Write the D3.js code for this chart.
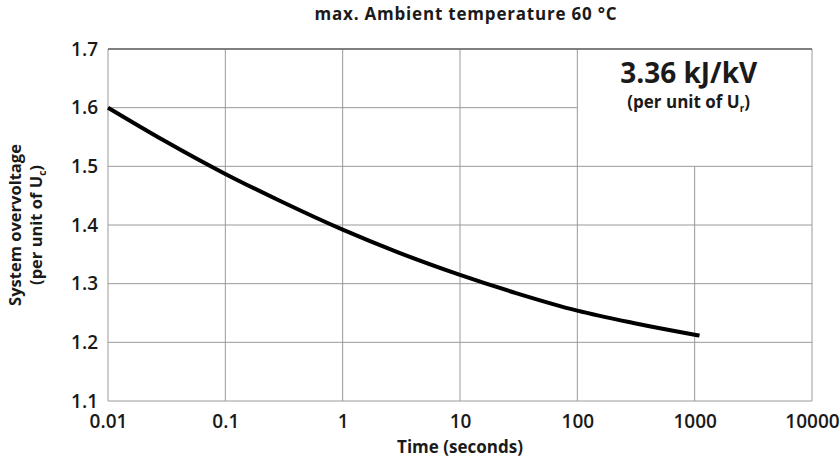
<!DOCTYPE html>
<html>
<head>
<meta charset="utf-8">
<script src="https://cdn.jsdelivr.net/npm/d3@7/dist/d3.min.js"></script>
<style>
  body { margin: 0; background: #fff; }
  svg text { font-family: "Open Sans", "DejaVu Sans", sans-serif; fill: #1a1a1a; }
</style>
</head>
<body>
<script>
'use strict';

// curve: time (s) vs overvoltage (per unit of Uc)
const times = [0.01, 0.03, 0.1, 0.3, 1, 3, 10, 30, 100, 300, 1000, 1100];
const overvoltage = [1.600, 1.544, 1.487, 1.440, 1.392, 1.353, 1.315, 1.284, 1.254, 1.233, 1.213, 1.2115];

const xTicks = [0.01, 0.1, 1, 10, 100, 1000, 10000];
const xTickLabels = ["0.01", "0.1", "1", "10", "100", "1000", "10000"];
const yTicks = [1.1, 1.2, 1.3, 1.4, 1.5, 1.6, 1.7];

const width = 840, height = 464;
const margin = { left: 108, right: 28, top: 49, bottom: 63 };

const svg = d3.select('body')
  .append('svg')
  .attr('width', width)
  .attr('height', height);

const x = d3.scaleLog()
  .domain([0.01, 10000])
  .range([margin.left, width - margin.right]);

const y = d3.scaleLinear()
  .domain([1.1, 1.7])
  .range([height - margin.bottom, margin.top]);

// grid - the 1.6 line stops at 100 s and the 1000 s line stops at 1.5 (text box)
const grid = svg.append('g').attr('stroke', '#9a9a9a').attr('stroke-width', 1);

grid.selectAll('.hgrid')
  .data(yTicks)
  .enter()
  .append('line')
  .attr('x1', x(0.01))
  .attr('x2', (d) => d === 1.6 ? x(100) : x(10000))
  .attr('y1', (d) => y(d))
  .attr('y2', (d) => y(d));

grid.selectAll('.vgrid')
  .data(xTicks)
  .enter()
  .append('line')
  .attr('x1', (d) => x(d))
  .attr('x2', (d) => x(d))
  .attr('y1', y(1.1))
  .attr('y2', (d) => d === 1000 ? y(1.5) : y(1.7));

// darker top border
svg.append('line')
  .attr('x1', x(0.01)).attr('x2', x(10000))
  .attr('y1', y(1.7)).attr('y2', y(1.7))
  .attr('stroke', '#666')
  .attr('stroke-width', 1.5);

// axes (labels only)
const xAxis = d3.axisBottom(x)
  .tickValues(xTicks)
  .tickFormat((d, i) => xTickLabels[i])
  .tickSize(0)
  .tickPadding(14);
const gx = svg.append('g')
  .attr('transform', `translate(0, ${y(1.1)})`)
  .call(xAxis);
gx.select('.domain').remove();
gx.selectAll('text')
  .style('font-size', '19px')
  .style('font-weight', 600)
  .attr('fill', '#1a1a1a');

const yAxis = d3.axisLeft(y)
  .tickValues(yTicks)
  .tickFormat(d3.format('.1f'))
  .tickSize(0)
  .tickPadding(10);
const gy = svg.append('g')
  .attr('transform', `translate(${x(0.01)}, 0)`)
  .call(yAxis);
gy.select('.domain').remove();
gy.selectAll('text')
  .style('font-size', '19px')
  .style('font-weight', 600)
  .attr('fill', '#1a1a1a');

// the curve
const line = d3.line()
  .x((d, i) => x(times[i]))
  .y((d) => y(d))
  .curve(d3.curveMonotoneX);

svg.append('path')
  .datum(overvoltage)
  .attr('d', line)
  .attr('fill', 'none')
  .attr('stroke', '#000')
  .attr('stroke-width', 4);

// title and labels
svg.append('text')
  .attr('x', (x(0.01) + x(10000)) / 2 + 6)
  .attr('y', 20)
  .attr('text-anchor', 'middle')
  .style('font-size', '17px')
  .style('font-weight', 700)
  .style('letter-spacing', '0.8px')
  .text('max. Ambient temperature 60 °C');

svg.append('text')
  .attr('x', (x(0.01) + x(10000)) / 2)
  .attr('y', 453)
  .attr('text-anchor', 'middle')
  .style('font-size', '17px')
  .style('font-weight', 700)
  .text('Time (seconds)');

const yl = svg.append('g')
  .attr('transform', `translate(0, ${(y(1.1) + y(1.7)) / 2}) rotate(-90)`);
yl.append('text')
  .attr('x', 0).attr('y', 21)
  .attr('text-anchor', 'middle')
  .style('font-size', '16.5px')
  .style('font-weight', 700)
  .text('System overvoltage');
const yl2 = yl.append('text')
  .attr('x', 0).attr('y', 42)
  .attr('text-anchor', 'middle')
  .style('font-size', '16.5px')
  .style('font-weight', 700);
yl2.append('tspan').text('(per unit of U');
yl2.append('tspan').attr('dy', 4).style('font-size', '10px').text('c');
yl2.append('tspan').attr('dy', -4).text(')');

// energy rating box text
const boxX = (x(100) + x(10000)) / 2 - 6;
svg.append('text')
  .attr('x', boxX)
  .attr('y', 83)
  .attr('text-anchor', 'middle')
  .style('font-size', '28px')
  .style('font-weight', 700)
  .text('3.36 kJ/kV');
const bt = svg.append('text')
  .attr('x', boxX)
  .attr('y', 108)
  .attr('text-anchor', 'middle')
  .style('font-size', '17px')
  .style('font-weight', 700);
bt.append('tspan').text('(per unit of U');
bt.append('tspan').attr('dy', 4).style('font-size', '10px').text('r');
bt.append('tspan').attr('dy', -4).text(')');
</script>
</body>
</html>
